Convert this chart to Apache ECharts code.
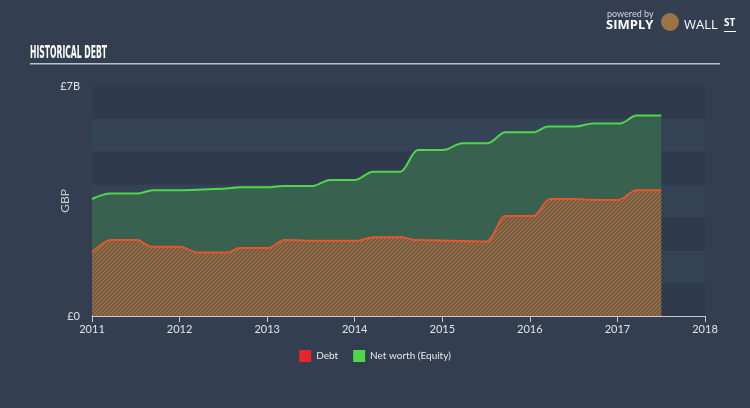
<!DOCTYPE html>
<html><head><meta charset="utf-8">
<script src="https://cdn.jsdelivr.net/npm/echarts@6/dist/echarts.min.js"></script>
<style>html,body{margin:0;padding:0;background:#333f50;}#c{width:750px;height:408px;}</style>
</head><body><div id="c"></div>
<script>
// decimal years of data points
const equityYears = [2011.0,2011.21,2011.53,2011.69,2012.04,2012.50,2012.69,2013.03,2013.18,2013.52,2013.72,2014.00,2014.21,2014.52,2014.72,2015.01,2015.23,2015.52,2015.72,2016.04,2016.21,2016.52,2016.72,2017.03,2017.22,2017.50];
const equityValues = [3.56,3.73,3.73,3.83,3.83,3.87,3.92,3.92,3.96,3.96,4.14,4.14,4.39,4.39,5.05,5.05,5.26,5.26,5.59,5.59,5.77,5.77,5.86,5.86,6.10,6.10];
const debtYears = [2011.0,2011.22,2011.51,2011.68,2012.00,2012.21,2012.54,2012.69,2013.01,2013.20,2013.60,2014.03,2014.21,2014.54,2014.69,2015.51,2015.72,2016.04,2016.23,2016.49,2016.77,2017.01,2017.22,2017.50];
const debtValues = [1.94,2.31,2.31,2.11,2.11,1.93,1.93,2.07,2.07,2.31,2.29,2.29,2.40,2.40,2.31,2.27,3.04,3.04,3.56,3.56,3.53,3.53,3.83,3.83];
const seriesNames = ['Debt','Net worth (Equity)'];
const yTickLabels = {0:'£0',7:'£7B'};
const titleText = 'HISTORICAL DEBT';
const yAxisTitle = 'GBP';

const pc = document.createElement('canvas');
pc.width = 4; pc.height = 4;
const g = pc.getContext('2d');
g.fillStyle = '#3f6a4f'; g.fillRect(0,0,4,4);
g.strokeStyle = '#cc5e38'; g.lineWidth = 1.35;
g.beginPath();
g.moveTo(-1,5); g.lineTo(5,-1);
g.moveTo(-1,1); g.lineTo(1,-1);
g.moveTo(3,5); g.lineTo(5,3);
g.stroke();

const titleFont = 'bold 18px "Liberation Sans Narrow", "DejaVu Sans Condensed", sans-serif';
const mc = document.createElement('canvas').getContext('2d');
mc.font = titleFont;
const titleScale = 77 / mc.measureText(titleText).width;

const chart = echarts.init(document.getElementById('c'));
const font = 'Lato, "Open Sans", sans-serif';
chart.setOption({
  backgroundColor: '#333f50',
  animation: false,
  grid: {left: 92, right: 45, top: 86, bottom: 92},
  xAxis: {
    type: 'value', min: 2011, max: 2018, interval: 1,
    axisLine: {show: true, lineStyle: {color: '#c5cbd3', width: 1}},
    axisTick: {show: true, length: 6, lineStyle: {color: '#c5cbd3'}},
    axisLabel: {color: '#dfe3e8', fontFamily: font, fontSize: 11, margin: 8, formatter: v => String(v)},
    splitLine: {show: false}
  },
  yAxis: {
    type: 'value', min: 0, max: 7, interval: 1,
    axisLine: {show: false}, axisTick: {show: false},
    axisLabel: {color: '#dfe3e8', fontFamily: font, fontSize: 11, margin: 12,
      formatter: v => yTickLabels[v] !== undefined ? yTickLabels[v] : ''},
    splitLine: {show: false},
    splitArea: {show: true, areaStyle: {color: ['#2f3b4c', '#354356']}}
  },
  legend: {
    top: 345, left: 'center', itemWidth: 12, itemHeight: 12, itemGap: 15,
    icon: 'rect',
    textStyle: {color: '#e6e9ed', fontFamily: font, fontSize: 10},
    data: seriesNames
  },
  graphic: [
    {type: 'text', x: 30, y: 44, scaleX: titleScale, style: {text: titleText, fill: '#ffffff', font: titleFont}},
    {type: 'rect', shape: {x: 30, y: 63, width: 690, height: 1.5}, style: {fill: '#b9c2cc'}},
    {type: 'text', x: 65, y: 201, rotation: Math.PI / 2, style: {text: yAxisTitle, fill: '#c9ced6', font: '12px Lato, sans-serif', align: 'center', verticalAlign: 'middle'}},
    {type: 'text', left: 607, top: 10, style: {text: 'powered by', fill: '#d0d5db', font: '9px Lato, sans-serif'}},
    {type: 'text', left: 606, top: 19, style: {text: 'SIMPLY', fill: '#ffffff', font: 'bold 13px "Open Sans", sans-serif'}},
    {type: 'circle', shape: {cx: 670, cy: 22, r: 9}, style: {fill: '#9a7445'}},
    {type: 'text', left: 684, top: 19, style: {text: 'WALL', fill: '#ffffff', font: '13px "Open Sans", sans-serif'}},
    {type: 'text', left: 724, top: 18, style: {text: 'ST', fill: '#ffffff', font: 'bold 10px "Open Sans", sans-serif'}},
    {type: 'rect', shape: {x: 724, y: 31, width: 12, height: 1}, style: {fill: '#ffffff'}}
  ],
  series: [
    {
      name: 'Net worth (Equity)', type: 'line', z: 2,
      data: equityYears.map((y, i) => [y, equityValues[i]]),
      smooth: 0.35, smoothMonotone: 'x', showSymbol: false,
      lineStyle: {color: '#4fd84a', width: 2},
      itemStyle: {color: '#4cd84a'},
      areaStyle: {color: '#38614f', opacity: 1, origin: 'start'}
    },
    {
      name: 'Debt', type: 'line', z: 3,
      data: debtYears.map((y, i) => [y, debtValues[i]]),
      smooth: 0.35, smoothMonotone: 'x', showSymbol: false,
      lineStyle: {color: '#e8552c', width: 2},
      itemStyle: {color: '#e5272b'},
      areaStyle: {color: {image: pc, repeat: 'repeat'}, opacity: 1, origin: 'start'}
    }
  ]
});
</script></body></html>
